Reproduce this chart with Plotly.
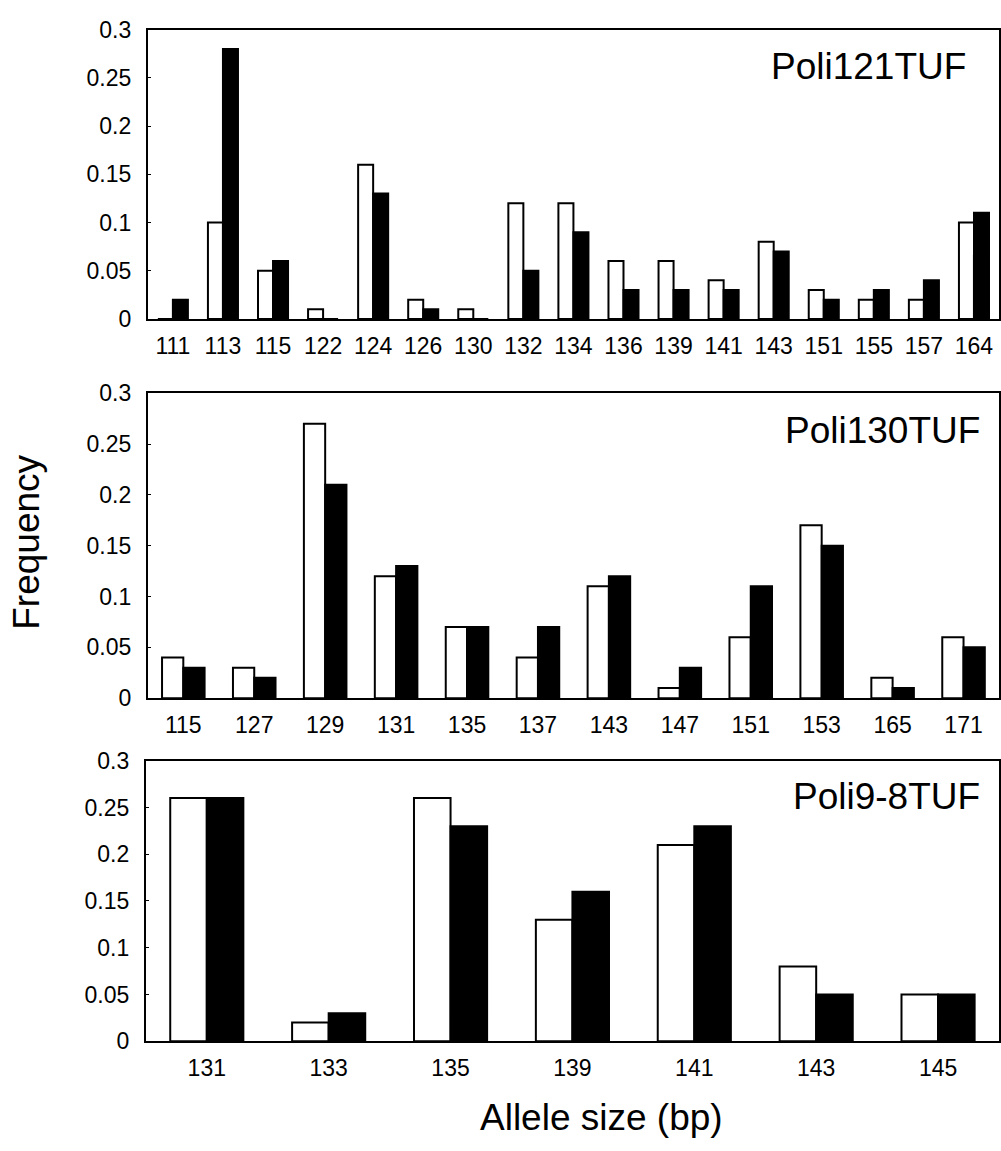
import plotly.graph_objects as go

W, H = 1001, 1151

# Panel 1: Poli121TUF
cats1 = ["111", "113", "115", "122", "124", "126", "130", "132", "134", "136",
         "139", "141", "143", "151", "155", "157", "164"]
white1 = [0, 0.10, 0.05, 0.01, 0.16, 0.02, 0.01, 0.12, 0.12, 0.06,
          0.06, 0.04, 0.08, 0.03, 0.02, 0.02, 0.10]
black1 = [0.02, 0.28, 0.06, 0, 0.13, 0.01, 0, 0.05, 0.09, 0.03,
          0.03, 0.03, 0.07, 0.02, 0.03, 0.04, 0.11]

# Panel 2: Poli130TUF
cats2 = ["115", "127", "129", "131", "135", "137", "143", "147", "151", "153", "165", "171"]
white2 = [0.04, 0.03, 0.27, 0.12, 0.07, 0.04, 0.11, 0.01, 0.06, 0.17, 0.02, 0.06]
black2 = [0.03, 0.02, 0.21, 0.13, 0.07, 0.07, 0.12, 0.03, 0.11, 0.15, 0.01, 0.05]

# Panel 3: Poli9-8TUF
cats3 = ["131", "133", "135", "139", "141", "143", "145"]
white3 = [0.26, 0.02, 0.26, 0.13, 0.21, 0.08, 0.05]
black3 = [0.26, 0.03, 0.23, 0.16, 0.23, 0.05, 0.05]

titles = ["Poli121TUF", "Poli130TUF", "Poli9-8TUF"]
y_ticks = [0, 0.05, 0.1, 0.15, 0.2, 0.25, 0.3]
y_ticktext = ["0", "0.05", "0.1", "0.15", "0.2", "0.25", "0.3"]

FONT = "Liberation Sans, Arial, sans-serif"

# pixel layout (left, top, bottom) for each panel
panels = [
    (148, 17, 313),
    (148, 389, 701),
    (146, 765, 1052),
]
RIGHT = 1000
title_pos = [(969, 55), (983, 427), (983, 802)]

fig = go.Figure()
data = [(cats1, white1, black1), (cats2, white2, black2), (cats3, white3, black3)]

layout = dict(
    width=W, height=H, autosize=False,
    margin=dict(l=0, r=0, t=0, b=0),
    paper_bgcolor="white", plot_bgcolor="white",
    showlegend=False,
    barmode="group", bargap=0.4, bargroupgap=0,
    font=dict(family=FONT, color="black"),
)

annotations = []
for i, ((cats, wv, bv), (left, top, bottom)) in enumerate(zip(data, panels)):
    n = "" if i == 0 else str(i + 1)
    xa, ya = "x" + n, "y" + n
    fig.add_trace(go.Bar(x=cats, y=wv, xaxis=xa, yaxis=ya,
                         marker=dict(color="white", line=dict(color="black", width=2)),
                         name="white"))
    fig.add_trace(go.Bar(x=cats, y=bv, xaxis=xa, yaxis=ya,
                         marker=dict(color="black", line=dict(color="black", width=2)),
                         name="black"))
    layout["xaxis" + n] = dict(
        domain=[left / W, RIGHT / W], anchor=ya, type="category",
        showline=True, linecolor="black", linewidth=2, mirror=True,
        showgrid=False, zeroline=False, ticks="",
        tickfont=dict(size=23, family=FONT, color="black"),
        ticklabelstandoff=5,
    )
    layout["yaxis" + n] = dict(
        domain=[1 - bottom / H, 1 - top / H], anchor=xa,
        range=[0, 0.3], tickvals=y_ticks, ticktext=y_ticktext,
        showline=True, linecolor="black", linewidth=2, mirror=True,
        showgrid=False, zeroline=False, ticks="inside", ticklen=3, tickcolor="black",
        tickfont=dict(size=23, family=FONT, color="black"),
        ticklabelstandoff=10,
    )
    tx, ty = title_pos[i]
    annotations.append(dict(
        text=titles[i], x=tx / W, y=1 - ty / H, xref="paper", yref="paper",
        xanchor="right", yanchor="middle", showarrow=False,
        font=dict(size=37, family=FONT, color="black"),
    ))

annotations.append(dict(
    text="Frequency", x=27 / W, y=1 - 541 / H, xref="paper", yref="paper",
    xanchor="center", yanchor="middle", textangle=-90, showarrow=False,
    font=dict(size=37, family=FONT, color="black"),
))
annotations.append(dict(
    text="Allele size (bp)", x=602 / W, y=1 - 1130 / H, xref="paper", yref="paper",
    xanchor="center", yanchor="middle", showarrow=False,
    font=dict(size=37, family=FONT, color="black"),
))
layout["annotations"] = annotations

fig.update_layout(**layout)
fig.write_html(
    "out.html",
    config={"displayModeBar": False},
    post_script="document.documentElement.style.margin='0';document.body.style.margin='0';document.body.style.overflow='hidden';",
)
